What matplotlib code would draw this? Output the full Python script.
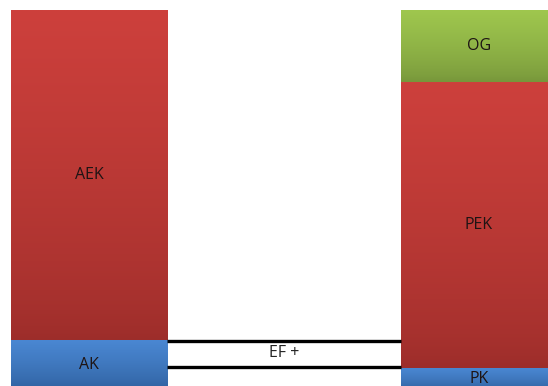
import matplotlib
matplotlib.use("Agg")
import matplotlib.pyplot as plt
import numpy as np
from matplotlib.colors import LinearSegmentedColormap

# Data
bars = [0, 1]
segments = [
    [("AK", 50), ("AEK", 330)],
    [("PK", 22), ("PEK", 286), ("OG", 72)],
]
ef_label = "EF +"
ef_lines = [49, 23]

colors = {
    "AK": ("#4a87d2", "#2d5e9c"),
    "PK": ("#4a87d2", "#2d5e9c"),
    "AEK": ("#cd403c", "#9c2d2a"),
    "PEK": ("#cd403c", "#9c2d2a"),
    "OG": ("#9fc74e", "#76953a"),
}

width = 0.4
fig = plt.figure(figsize=(5.48, 3.86), dpi=100)
ax = fig.add_axes([0, 0, 1, 1])
ax.set_xlim(-0.228, 1.177)
ax.set_ylim(4, 390)
ax.axis("off")

font = ["Open Sans", "DejaVu Sans"]
fs = 11.5
for xi, segs in zip(bars, segments):
    bottom = 0
    for label, val in segs:
        top_c, bot_c = colors[label]
        cmap = LinearSegmentedColormap.from_list(label, [bot_c, top_c])
        grad = np.linspace(0, 1, 256).reshape(-1, 1) ** 0.7
        x0, x1 = xi - width / 2, xi + width / 2
        ax.imshow(grad, cmap=cmap, aspect="auto", origin="lower",
                  extent=(x0, x1, bottom, bottom + val), interpolation="bicubic", zorder=1)
        ax.text(xi, bottom + val / 2, label, ha="center", va="center",
                fontsize=fs, color="#1e1414", family=font, zorder=3)
        bottom += val

# EF lines between bars
x_left = bars[0] + width / 2
x_right = bars[1] - width / 2
for y in ef_lines:
    ax.plot([x_left, x_right], [y, y], color="black", lw=2.4, solid_capstyle="butt", zorder=2)
ax.text((x_left + x_right) / 2, np.mean(ef_lines) + 1, ef_label, ha="center", va="center",
        fontsize=fs, color="#222222", family=font, zorder=3)

fig.savefig("out.png", dpi=100)
